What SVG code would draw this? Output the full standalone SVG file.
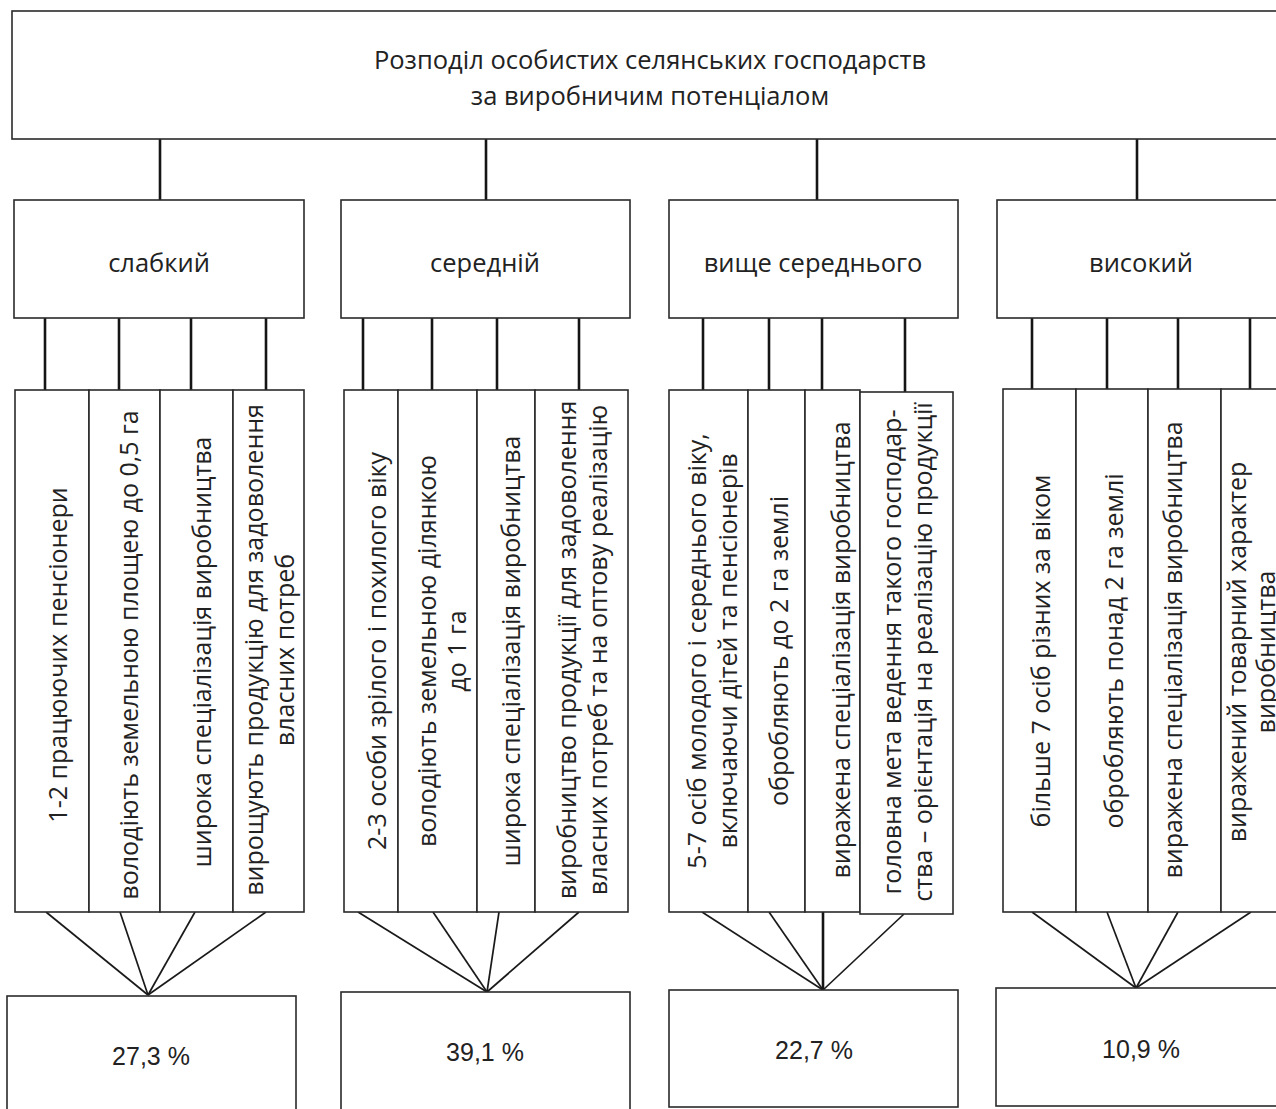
<svg xmlns="http://www.w3.org/2000/svg" width="1276" height="1109" viewBox="0 0 1276 1109">
<style>
.bg{fill:#ffffff}
.box{fill:#ffffff;stroke:#2a2a2a;stroke-width:1.6}
.t{font-family:"Open Sans","Noto Sans","DejaVu Sans",sans-serif;font-size:25px;fill:#222;text-anchor:middle}
.t1{font-family:"Open Sans","Noto Sans","DejaVu Sans",sans-serif;font-size:25.5px;fill:#222;text-anchor:middle}
.t2{font-family:"Open Sans","Noto Sans","DejaVu Sans",sans-serif;font-size:25.5px;fill:#222;text-anchor:middle}
.p{font-family:"Liberation Sans","Arial",sans-serif;font-size:25px;fill:#222;text-anchor:middle}
.c{stroke:#151515;stroke-width:2.6;fill:none}
.f{stroke:#1a1a1a;stroke-width:1.7;fill:none}
</style>
<rect class="bg" x="0" y="0" width="1276" height="1109"/>

<g id="connectors">
  <line class="c" x1="160" y1="139" x2="160" y2="200"/>
  <line class="c" x1="486" y1="139" x2="486" y2="200"/>
  <line class="c" x1="817" y1="139" x2="817" y2="200"/>
  <line class="c" x1="1137" y1="139" x2="1137" y2="200"/>
  <line class="c" x1="45" y1="318" x2="45" y2="391"/>
  <line class="c" x1="119" y1="318" x2="119" y2="391"/>
  <line class="c" x1="191" y1="318" x2="191" y2="391"/>
  <line class="c" x1="266" y1="318" x2="266" y2="391"/>
  <line class="c" x1="363" y1="318" x2="363" y2="391"/>
  <line class="c" x1="432" y1="318" x2="432" y2="391"/>
  <line class="c" x1="497" y1="318" x2="497" y2="391"/>
  <line class="c" x1="579" y1="318" x2="579" y2="391"/>
  <line class="c" x1="703" y1="318" x2="703" y2="391"/>
  <line class="c" x1="769" y1="318" x2="769" y2="391"/>
  <line class="c" x1="822" y1="318" x2="822" y2="391"/>
  <line class="c" x1="905" y1="318" x2="905" y2="393"/>
  <line class="c" x1="1032" y1="318" x2="1032" y2="390"/>
  <line class="c" x1="1107" y1="318" x2="1107" y2="390"/>
  <line class="c" x1="1178" y1="318" x2="1178" y2="390"/>
  <line class="c" x1="1250" y1="318" x2="1250" y2="390"/>
  <line class="f" x1="46" y1="912" x2="148" y2="995"/>
  <line class="f" x1="120" y1="912" x2="148" y2="995"/>
  <line class="f" x1="195" y1="912" x2="148" y2="995"/>
  <line class="f" x1="266" y1="912" x2="148" y2="995"/>
  <line class="f" x1="358" y1="912" x2="487" y2="992"/>
  <line class="f" x1="433" y1="912" x2="487" y2="992"/>
  <line class="f" x1="499" y1="912" x2="487" y2="992"/>
  <line class="f" x1="579" y1="912" x2="487" y2="992"/>
  <line class="f" x1="702" y1="912" x2="823" y2="990"/>
  <line class="f" x1="769" y1="912" x2="823" y2="990"/>
  <line class="c" x1="823" y1="912" x2="823" y2="990"/>
  <line class="f" x1="904" y1="914" x2="823" y2="990"/>
  <line class="f" x1="1032" y1="912" x2="1136" y2="988"/>
  <line class="f" x1="1107" y1="912" x2="1136" y2="988"/>
  <line class="f" x1="1178" y1="912" x2="1136" y2="988"/>
  <line class="f" x1="1251" y1="912" x2="1136" y2="988"/>
</g>

<g id="root">
  <rect class="box" x="12" y="11" width="1280" height="128"/>
  <text class="t1" x="650" y="69">Розподіл особистих селянських господарств</text>
  <text class="t1" x="650" y="105">за виробничим потенціалом</text>
</g>

<g id="weak">
  <rect class="box" x="14" y="200" width="290" height="118"/>
  <text class="t2" x="159" y="272">слабкий</text>
</g>
<g id="medium">
  <rect class="box" x="341" y="200" width="289" height="118"/>
  <text class="t2" x="485" y="272">середній</text>
</g>
<g id="above-medium">
  <rect class="box" x="669" y="200" width="289" height="118"/>
  <text class="t2" x="813" y="272">вище середнього</text>
</g>
<g id="high">
  <rect class="box" x="997" y="200" width="290" height="118"/>
  <text class="t2" x="1141" y="272">високий</text>
</g>

<g id="weak-1">
  <rect class="box" x="15" y="390" width="74" height="522"/>
  <text class="t" transform="translate(67,655) rotate(-90)">1-2 працюючих пенсіонери</text>
</g>
<g id="weak-2">
  <rect class="box" x="89" y="390" width="71" height="522"/>
  <text class="t" transform="translate(138,655) rotate(-90)">володіють земельною площею до 0,5 га</text>
</g>
<g id="weak-3">
  <rect class="box" x="160" y="390" width="73" height="522"/>
  <text class="t" transform="translate(211,652) rotate(-90)">широка спеціалізація виробництва</text>
</g>
<g id="weak-4">
  <rect class="box" x="233" y="390" width="71" height="522"/>
  <text class="t" transform="translate(263,650) rotate(-90)">вирощують продукцію для задоволення</text>
  <text class="t" transform="translate(294,650) rotate(-90)">власних потреб</text>
</g>

<g id="medium-1">
  <rect class="box" x="344" y="390" width="54" height="522"/>
  <text class="t" transform="translate(386,651) rotate(-90)">2-3 особи зрілого і похилого віку</text>
</g>
<g id="medium-2">
  <rect class="box" x="398" y="390" width="79" height="522"/>
  <text class="t" transform="translate(436,651) rotate(-90)">володіють земельною ділянкою</text>
  <text class="t" transform="translate(466,651) rotate(-90)">до 1 га</text>
</g>
<g id="medium-3">
  <rect class="box" x="477" y="390" width="58" height="522"/>
  <text class="t" transform="translate(520,651) rotate(-90)">широка спеціалізація виробництва</text>
</g>
<g id="medium-4">
  <rect class="box" x="535" y="390" width="93" height="522"/>
  <text class="t" transform="translate(576,650) rotate(-90)">виробництво продукції для задоволення</text>
  <text class="t" transform="translate(607,650) rotate(-90)">власних потреб та на оптову реалізацію</text>
</g>

<g id="above-1">
  <rect class="box" x="669" y="390" width="79" height="522"/>
  <text class="t" transform="translate(706,651) rotate(-90)">5-7 осіб молодого і середнього віку,</text>
  <text class="t" transform="translate(737,651) rotate(-90)">включаючи дітей та пенсіонерів</text>
</g>
<g id="above-2">
  <rect class="box" x="748" y="390" width="57" height="522"/>
  <text class="t" transform="translate(788,651) rotate(-90)">обробляють до 2 га землі</text>
</g>
<g id="above-3">
  <rect class="box" x="805" y="390" width="55" height="522"/>
  <text class="t" transform="translate(850,650) rotate(-90)">виражена спеціалізація виробництва</text>
</g>
<g id="above-4">
  <rect class="box" x="860" y="392" width="93" height="522"/>
  <text class="t" transform="translate(901,652) rotate(-90)">головна мета ведення такого господар-</text>
  <text class="t" transform="translate(932,652) rotate(-90)">ства – орієнтація на реалізацію продукції</text>
</g>

<g id="high-1">
  <rect class="box" x="1003" y="389" width="73" height="523"/>
  <text class="t" transform="translate(1050,651) rotate(-90)">більше 7 осіб різних за віком</text>
</g>
<g id="high-2">
  <rect class="box" x="1076" y="389" width="72" height="523"/>
  <text class="t" transform="translate(1123,651) rotate(-90)">обробляють понад 2 га землі</text>
</g>
<g id="high-3">
  <rect class="box" x="1148" y="389" width="73" height="523"/>
  <text class="t" transform="translate(1182,650) rotate(-90)">виражена спеціалізація виробництва</text>
</g>
<g id="high-4">
  <rect class="box" x="1221" y="389" width="80" height="523"/>
  <text class="t" transform="translate(1246,652) rotate(-90)">виражений товарний характер</text>
  <text class="t" transform="translate(1275,652) rotate(-90)">виробництва</text>
</g>

<g id="pct-weak">
  <rect class="box" x="7" y="996" width="289" height="125"/>
  <text class="p" x="151" y="1065">27,3 %</text>
</g>
<g id="pct-medium">
  <rect class="box" x="341" y="992" width="289" height="125"/>
  <text class="p" x="485" y="1061">39,1 %</text>
</g>
<g id="pct-above">
  <rect class="box" x="669" y="990" width="289" height="117"/>
  <text class="p" x="814" y="1059">22,7 %</text>
</g>
<g id="pct-high">
  <rect class="box" x="996" y="988" width="294" height="118"/>
  <text class="p" x="1141" y="1058">10,9 %</text>
</g>
</svg>
